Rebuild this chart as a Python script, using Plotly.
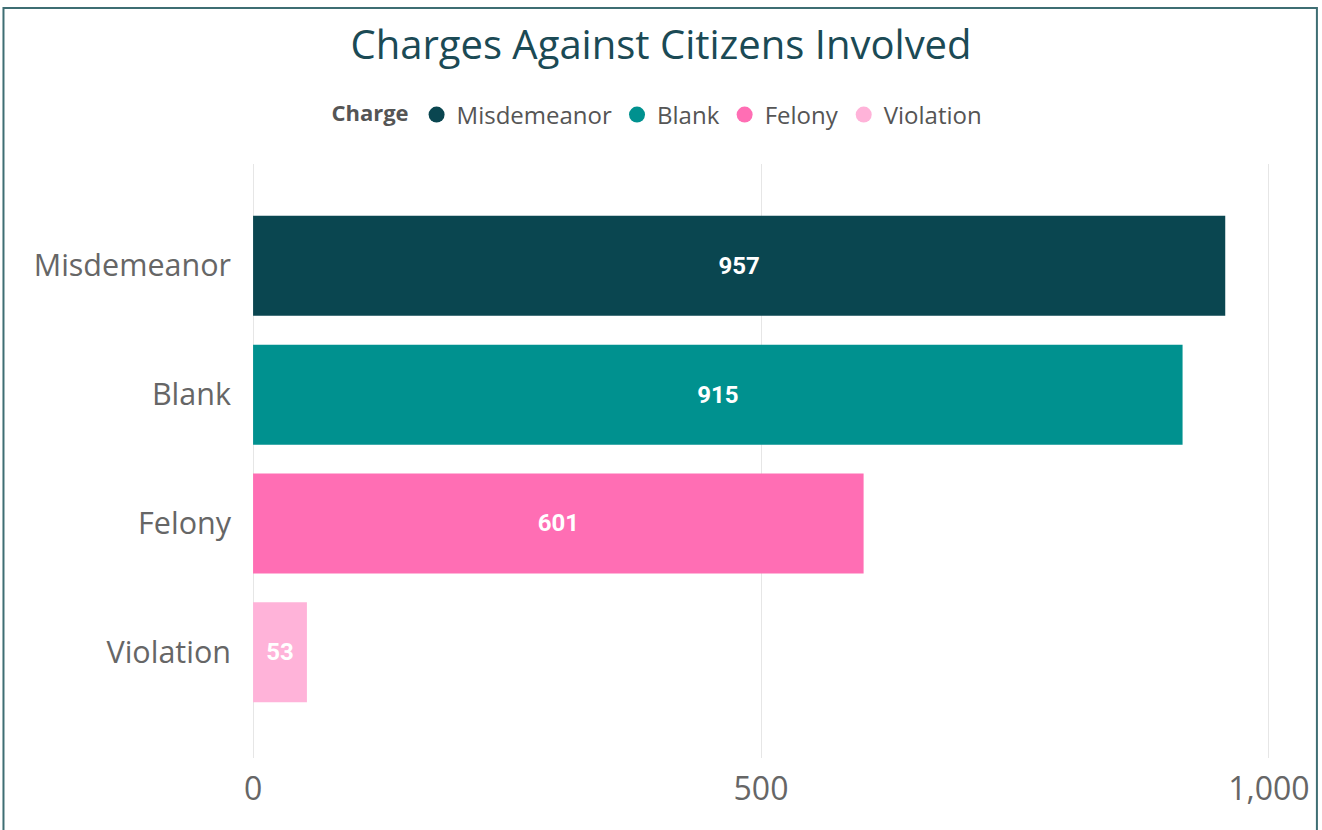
import plotly.graph_objects as go

# ── data ──
charges = ["Misdemeanor", "Blank", "Felony", "Violation"]
counts = [957, 915, 601, 53]
bar_colors = ["#0A4650", "#00918F", "#FF6EB4", "#FFB3D9"]

x_ticks = [0, 500, 1000]
x_tick_text = ["0", "500", "1,000"]

TEXT_FONT = "Open Sans, Noto Sans, sans-serif"

fig = go.Figure()

# one trace for the bars, coloured per category
fig.add_trace(
    go.Bar(
        y=charges, x=counts,
        orientation="h",
        marker=dict(color=bar_colors, line=dict(width=0)),
        text=counts,
        textposition="inside",
        insidetextanchor="middle",
        textfont=dict(family="Roboto, sans-serif", size=24, color="white", weight="bold"),
        showlegend=False,
        hoverinfo="skip",
    )
)

# legend entries as circles
for name, colour in zip(charges, bar_colors):
    fig.add_trace(
        go.Scatter(
            x=[None], y=[None], mode="markers",
            marker=dict(size=22, color=colour, symbol="circle"),
            name=name,
        )
    )

# ── layout ──
fig.update_layout(
    width=1322, height=830,
    paper_bgcolor="white", plot_bgcolor="white",
    margin=dict(l=248, r=46, t=164, b=72),
    bargap=0.224,
    title=dict(
        text="Charges Against Citizens Involved",
        x=0.5, xanchor="center",
        yref="container", y=1 - 45 / 830, yanchor="middle",
        font=dict(family=TEXT_FONT, size=40, color="#1B4A55"),
    ),
    legend=dict(
        orientation="h",
        x=0.4, xanchor="center",
        y=1.0825, yanchor="middle",
        title=dict(text="<b>Charge</b>", side="left",
                   font=dict(family=TEXT_FONT, size=22, color="#555555")),
        font=dict(family=TEXT_FONT, size=24, color="#555555"),
        itemsizing="trace",
        tracegroupgap=0,
    ),
    shapes=[
        dict(
            type="rect", xref="paper", yref="paper",
            x0=(3 - 248) / 1028, x1=(1319 - 248) / 1028,
            y0=-(835 - 758) / 594, y1=(758 - 8) / 594,
            line=dict(color="#3E6E73", width=2),
            fillcolor="rgba(0,0,0,0)",
            layer="below",
        )
    ],
)

fig.update_xaxes(
    range=[-5, 1005],
    tickvals=x_ticks, ticktext=x_tick_text,
    showgrid=True, gridcolor="#E6E6E6", gridwidth=1,
    zeroline=False, showline=False,
    ticks="", ticklabelstandoff=9,
    tickfont=dict(family=TEXT_FONT, size=32, color="#666666"),
)
fig.update_yaxes(
    categoryorder="array", categoryarray=charges,
    range=[3.82, -0.79],
    showgrid=False, zeroline=False, showline=False,
    ticks="", ticklabelstandoff=16,
    tickfont=dict(family=TEXT_FONT, size=30.5, color="#666666"),
)

# page has a default 8px body margin; drop it so the chart sits at the window origin
fig.write_html(
    "out.html",
    config={"displayModeBar": False},
    post_script="document.body.style.margin='0px';document.body.style.overflow='hidden';",
)
